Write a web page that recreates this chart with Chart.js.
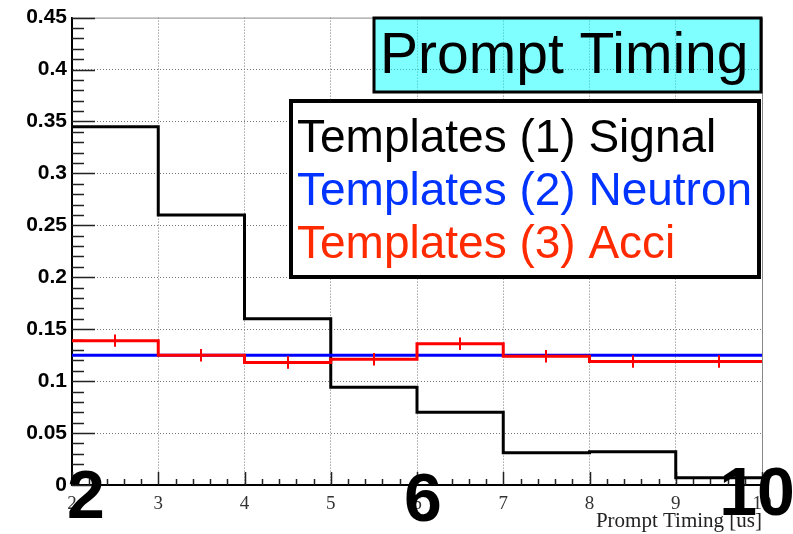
<!DOCTYPE html>
<html lang="en">
<head>
  <meta charset="UTF-8" />
  <title>Prompt Timing</title>
  <script src="https://cdn.jsdelivr.net/npm/chart.js"></script>
  <style>
    body { margin: 0; padding: 0; background: white; }
    #wrap { width: 793px; height: 534px; }
  </style>
</head>
<body>
  <div id="wrap"><canvas id="chart" width="793" height="534"></canvas></div>

  <script>
    // bin edges of the histograms (prompt timing, us)
    const binEdges = [2, 3, 4, 5, 6, 7, 8, 9, 10];
    // bin contents
    const signal  = [0.345, 0.260, 0.160, 0.094, 0.070, 0.031, 0.032, 0.007];
    const neutron = [0.125, 0.125, 0.125, 0.125, 0.125, 0.125, 0.125, 0.125];
    const acci    = [0.139, 0.125, 0.118, 0.121, 0.136, 0.124, 0.119, 0.119];
    const acciErr = [0.006, 0.006, 0.006, 0.006, 0.006, 0.006, 0.006, 0.006];
    const labels  = ["Templates (1) Signal", "Templates (2) Neutron", "Templates (3) Acci"];
    const yTicks  = [0, 0.05, 0.1, 0.15, 0.2, 0.25, 0.3, 0.35, 0.4, 0.45];
    const bigMarks = ["2", "6", "10"];

    // histogram as stepped line: one point per edge, last bin repeated at the end
    function toSteps(vals) {
      return binEdges.map((e, i) => ({ x: e, y: vals[Math.min(i, vals.length - 1)] }));
    }

    const edgeGrid = (lo, hi) => ctx =>
      (ctx.tick && (ctx.tick.value === lo || ctx.tick.value === hi)) ? "rgba(0,0,0,0)" : "#777";

    // ROOT style frame, inward ticks, title box
    const framePlugin = {
      id: "frame",
      beforeDatasetsDraw(chart) {
        const { ctx, chartArea: a, scales: { x, y } } = chart;
        ctx.save();
        ctx.strokeStyle = "#888";
        ctx.lineWidth = 1;
        ctx.beginPath();
        ctx.moveTo(a.left, a.top + 0.5); ctx.lineTo(a.right + 0.5, a.top + 0.5);
        ctx.lineTo(a.right + 0.5, a.bottom);
        ctx.stroke();

        ctx.strokeStyle = "#222";
        ctx.lineWidth = 1.5;
        ctx.beginPath();
        for (let i = 0; i <= 45; i++) {
          const py = Math.round(y.getPixelForValue(i * 0.01)) + 0.5;
          const len = i % 5 === 0 ? 23 : 12;
          ctx.moveTo(a.left, py); ctx.lineTo(a.left + len, py);
        }
        for (let i = 0; i <= 40; i++) {
          const px = Math.round(x.getPixelForValue(2 + i * 0.2)) + 0.5;
          const len = i % 5 === 0 ? 13 : 6;
          ctx.moveTo(px, a.bottom); ctx.lineTo(px, a.bottom - len);
        }
        ctx.stroke();

        // title box (grid shows through)
        ctx.fillStyle = "rgba(0,255,255,0.5)";
        ctx.fillRect(374, 18, 387, 74);
        ctx.strokeStyle = "#000";
        ctx.lineWidth = 3;
        ctx.strokeRect(374, 18, 387, 74);
        ctx.fillStyle = "#000";
        ctx.font = "57px 'Liberation Sans', Arial, sans-serif";
        ctx.textBaseline = "alphabetic";
        ctx.textAlign = "left";
        ctx.fillText("Prompt Timing", 380, 73);
        ctx.restore();
      },
      afterDatasetsDraw(chart) {
        const { ctx, scales: { x, y } } = chart;
        ctx.save();
        // error bars on the accidental template
        ctx.strokeStyle = "#ff0000";
        ctx.lineWidth = 2;
        ctx.beginPath();
        acci.forEach((v, i) => {
          const px = Math.round(x.getPixelForValue((binEdges[i] + binEdges[i + 1]) / 2));
          ctx.moveTo(px, y.getPixelForValue(v - acciErr[i]));
          ctx.lineTo(px, y.getPixelForValue(v + acciErr[i]));
        });
        ctx.stroke();

        // legend box
        ctx.fillStyle = "#fff";
        ctx.fillRect(291, 101, 468, 176);
        ctx.strokeStyle = "#000";
        ctx.lineWidth = 4;
        ctx.strokeRect(291, 101, 468, 176);
        ctx.font = "46px 'Liberation Sans', Arial, sans-serif";
        ctx.textAlign = "left";
        const txtCol = ["#000000", "#0033ff", "#ff2a00"];
        labels.forEach((t, i) => {
          ctx.fillStyle = txtCol[i];
          ctx.fillText(t, 297, 152 + i * 53);
        });

        // large overlay numbers
        ctx.fillStyle = "#000";
        ctx.font = "bold 68px 'Liberation Sans', Arial, sans-serif";
        ctx.textAlign = "center";
        ctx.fillText(bigMarks[0], 86, 518);
        ctx.fillText(bigMarks[1], 423, 521);
        ctx.fillText(bigMarks[2], 757, 515);
        ctx.restore();
      }
    };

    new Chart(document.getElementById("chart").getContext("2d"), {
      type: "line",
      data: {
        datasets: [
          { label: labels[0], data: toSteps(signal), borderColor: "#000000", order: 3 },
          { label: labels[1], data: toSteps(neutron), borderColor: "#0000ff", order: 2 },
          { label: labels[2], data: toSteps(acci), borderColor: "#ff0000", order: 1 }
        ].map(d => Object.assign(d, { stepped: "before", borderWidth: 3, pointRadius: 0, fill: false }))
      },
      options: {
        responsive: false,
        animation: false,
        layout: { padding: { left: 0, top: 17, right: 31, bottom: 0 } },
        plugins: { legend: { display: false }, tooltip: { enabled: false } },
        scales: {
          x: {
            type: "linear",
            min: 2, max: 10,
            afterFit: s => { s.height = 49; },
            ticks: {
              stepSize: 1,
              color: "#333",
              padding: 8,
              font: { family: "'Liberation Serif', 'Times New Roman', serif", size: 19 }
            },
            grid: { color: edgeGrid(2, 10), lineWidth: 1, drawTicks: false },
            border: { display: true, color: "#000", width: 2, dash: [1, 2] },
            title: {
              display: true,
              text: "Prompt Timing [us]",
              align: "end",
              color: "#222",
              padding: { top: 0, bottom: 0 },
              font: { family: "'Liberation Serif', 'Times New Roman', serif", size: 21 }
            }
          },
          y: {
            min: 0, max: 0.45,
            afterFit: s => { s.width = 72; },
            afterBuildTicks: s => { s.ticks = yTicks.map(v => ({ value: v })); },
            ticks: {
              color: "#000",
              padding: 5,
              callback: v => String(+v.toFixed(2)),
              font: { family: "'Liberation Sans', Arial, sans-serif", size: 21, weight: "bold" }
            },
            grid: { color: edgeGrid(0, 0.45), lineWidth: 1, drawTicks: false },
            border: { display: true, color: "#000", width: 2, dash: [1, 2] }
          }
        }
      },
      plugins: [framePlugin]
    });
  </script>
</body>
</html>
